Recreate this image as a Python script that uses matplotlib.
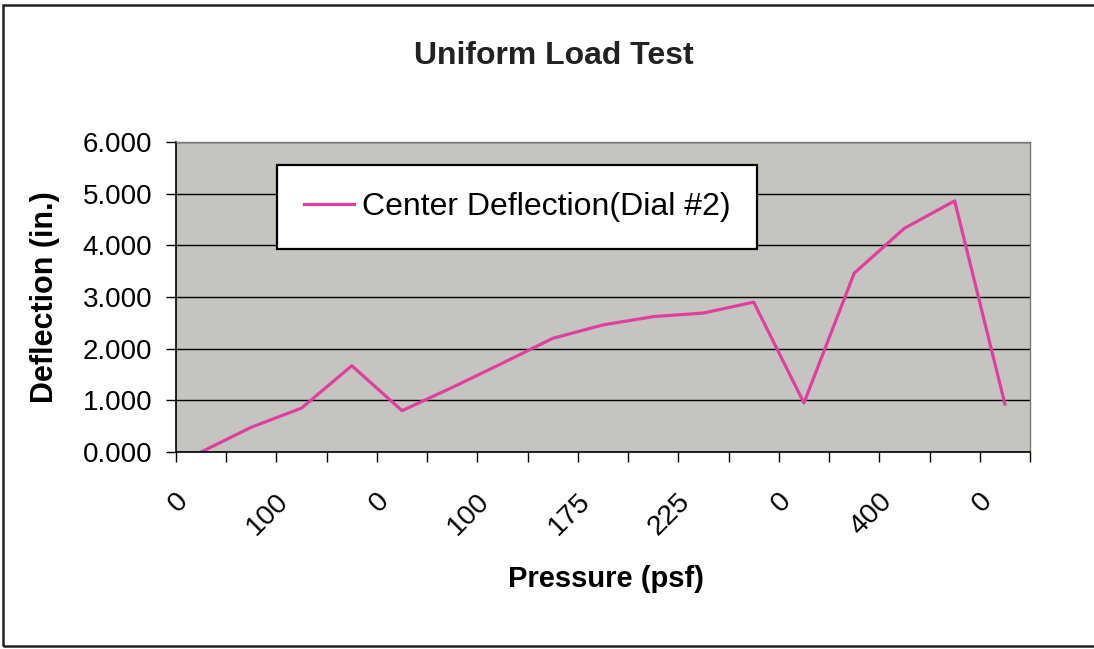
import matplotlib
matplotlib.use("Agg")
from matplotlib import pyplot as plt
from matplotlib.patches import Rectangle
from matplotlib.ticker import FixedLocator, FormatStrFormatter
import matplotlib.transforms as mtransforms

plt.rcParams['font.family'] = ['Liberation Sans', 'DejaVu Sans']

# Pressure steps (psf) - only every other one is labelled on the axis
pressure = ['0', '50', '100', '150', '0', '50', '100', '150', '175',
            '200', '225', '250', '0', '350', '400', '450', '0']
# Center deflection read from dial #2 (in.)
deflection = [0.00, 0.48, 0.85, 1.67, 0.80, 1.25, 1.72, 2.20, 2.46,
              2.62, 2.69, 2.90, 0.95, 3.46, 4.33, 4.86, 0.93]
series_name = 'Center Deflection(Dial #2)'

fig = plt.figure(figsize=(10.94, 6.49), dpi=100)
ax = fig.add_axes([176/1094, 1 - 452/649, 854/1094, 310/649])
ax.set_facecolor('#c4c4c0')

x = list(range(len(pressure)))
ax.plot(x, deflection, color='#e0409c', linewidth=2.3, label=series_name)

# axes limits / ticks
ax.set_xlim(-0.5, len(pressure) - 0.5)
ax.set_ylim(0, 6)
ax.yaxis.set_major_locator(FixedLocator([0, 1, 2, 3, 4, 5, 6]))
ax.yaxis.set_major_formatter(FormatStrFormatter('%.3f'))
ax.grid(axis='y', color='black', linewidth=1.0)

# tick marks between categories, labels on every other category
ax.xaxis.set_major_locator(FixedLocator([i - 0.5 for i in range(len(pressure) + 1)]))
ax.xaxis.set_major_formatter(plt.NullFormatter())
ax.xaxis.set_minor_locator(FixedLocator(x[::2]))
ax.set_xticklabels(pressure[::2], minor=True)
ax.tick_params(axis='x', which='major', length=7, width=1.0, direction='out')
ax.tick_params(axis='x', which='minor', length=0, pad=26, labelsize=20.5)
ax.tick_params(axis='y', length=7, width=1.0, pad=10, labelsize=20)

offset = mtransforms.ScaledTranslation(-0.26, 0, fig.dpi_scale_trans)
for lbl in ax.get_xticklabels(minor=True):
    lbl.set_rotation(45)
    lbl.set_ha('right')
    lbl.set_va('top')
    lbl.set_rotation_mode('anchor')
    lbl.set_transform(lbl.get_transform() + offset)

for side in ['left', 'bottom']:
    ax.spines[side].set_color('black')
    ax.spines[side].set_linewidth(1.2)
for side in ['top', 'right']:
    ax.spines[side].set_color('#7a7a7a')
    ax.spines[side].set_linewidth(1.0)

ax.set_ylabel('Deflection (in.)', fontsize=22, fontweight='bold')
ax.yaxis.set_label_coords((60 - 176) / 854, 0.5)
ax.set_xlabel('Pressure (psf)', fontsize=21, fontweight='bold')
ax.xaxis.set_label_coords((606 - 176) / 854, (452 - 565) / 310)

fig.text(554/1094, 1 - 56/649, 'Uniform Load Test', fontsize=23,
         fontweight='bold', ha='center', va='center', color='#222222')

leg = ax.legend(loc='upper left', bbox_to_anchor=(101/854, (452 - 165)/310), fontsize=23,
                handlelength=1.55, handletextpad=0.25, borderpad=0.85,
                borderaxespad=0, fancybox=False, framealpha=1, edgecolor='black')
leg.get_frame().set_linewidth(1.6)

# outer chart border
fig.patches.append(Rectangle((3/1094, 3/649), 1.02, 641/649, transform=fig.transFigure,
                             fill=False, edgecolor='#222222', linewidth=1.8))

fig.savefig('out.png', dpi=100)
